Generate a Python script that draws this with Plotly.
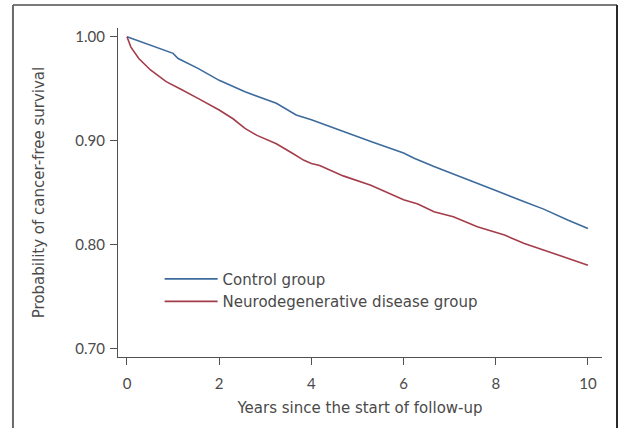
import plotly.graph_objects as go

# Control group (blue) Kaplan-Meier estimates
control_years = [0, 1.0, 1.11, 1.54, 2.0, 2.56, 3.24, 3.67, 4.0, 4.69, 5.29, 6.0, 6.23, 6.66, 7.25, 7.6, 8.0, 8.62, 9.04, 9.56, 10.0]
control_surv = [1.000, 0.984, 0.979, 0.9695, 0.958, 0.947, 0.936, 0.9246, 0.920, 0.9085, 0.899, 0.888, 0.883, 0.875, 0.865, 0.859, 0.852, 0.841, 0.834, 0.8235, 0.8154]

# Neurodegenerative disease group (red)
neuro_years = [0, 0.085, 0.256, 0.51, 0.85, 1.0, 1.19, 1.54, 2.0, 2.3, 2.56, 2.82, 3.24, 3.58, 3.84, 4.0, 4.18, 4.69, 5.29, 6.0, 6.31, 6.66, 7.08, 7.6, 8.0, 8.19, 8.62, 9.04, 9.56, 10.0]
neuro_surv = [1.000, 0.990, 0.979, 0.968, 0.9567, 0.9535, 0.949, 0.9406, 0.9294, 0.921, 0.9117, 0.905, 0.897, 0.888, 0.881, 0.878, 0.876, 0.866, 0.857, 0.843, 0.839, 0.8315, 0.8267, 0.817, 0.812, 0.809, 0.801, 0.7946, 0.7865, 0.780]

x_ticks = [0, 2, 4, 6, 8, 10]
y_ticks = [0.70, 0.80, 0.90, 1.00]
y_tick_labels = ["0.70", "0.80", "0.90", "1.00"]

series_names = ["Control group", "Neurodegenerative disease group"]
colors = ["#3d6b9c", "#a43d4a"]
TICKFONT = "Lato, 'Open Sans', sans-serif"
TEXTFONT = "'DejaVu Sans', sans-serif"
TXT = "#4a4a4a"

fig = go.Figure()
fig.add_trace(go.Scatter(x=control_years, y=control_surv, mode="lines", name=series_names[0],
                         line=dict(color=colors[0], width=1.6)))
fig.add_trace(go.Scatter(x=neuro_years, y=neuro_surv, mode="lines", name=series_names[1],
                         line=dict(color=colors[1], width=1.6)))

axis_common = dict(showgrid=False, zeroline=False, showline=True, linecolor="#505050", linewidth=1.2,
                   ticks="outside", ticklen=7, tickcolor="#505050", tickwidth=1.2,
                   tickfont=dict(family=TICKFONT, size=15, color=TXT))

fig.update_xaxes(range=[-0.195, 10.305], tickvals=x_ticks, ticktext=[str(v) for v in x_ticks],
                 ticklabelstandoff=6,
                 title=dict(text="Years since the start of follow-up", font=dict(family=TEXTFONT, size=15, color=TXT), standoff=11),
                 **axis_common)
fig.update_yaxes(range=[0.6916, 1.0084], tickvals=y_ticks, ticktext=y_tick_labels,
                 ticklabelstandoff=2,
                 title=dict(text="Probability of cancer-free survival", font=dict(family=TEXTFONT, size=15, color=TXT), standoff=27),
                 **axis_common)

# outer frame (top, left, right edges)
frame = [
    dict(x0=-0.217, x1=1.031, y0=1.0699, y1=1.0699, color="#7a7a7a"),
    dict(x0=-0.217, x1=-0.217, y0=1.0699, y1=-0.3, color="#6a6a6a"),
    dict(x0=1.031, x1=1.031, y0=1.0699, y1=-0.3, color="#2a2a2a"),
]
for f in frame:
    fig.add_shape(type="line", xref="paper", yref="paper", x0=f["x0"], x1=f["x1"], y0=f["y0"], y1=f["y1"],
                  line=dict(color=f["color"], width=2))

fig.update_layout(
    width=618, height=428,
    margin=dict(l=118, r=16, t=28, b=71),
    paper_bgcolor="white", plot_bgcolor="white",
    showlegend=True,
    legend=dict(x=0.086, y=0.287, xanchor="left", yanchor="top", bgcolor="rgba(0,0,0,0)",
                font=dict(family=TEXTFONT, size=15, color=TXT), itemwidth=53, tracegroupgap=0),
)

fig.write_html("out.html", config={"displayModeBar": False},
               post_script="document.body.style.margin='0';")
